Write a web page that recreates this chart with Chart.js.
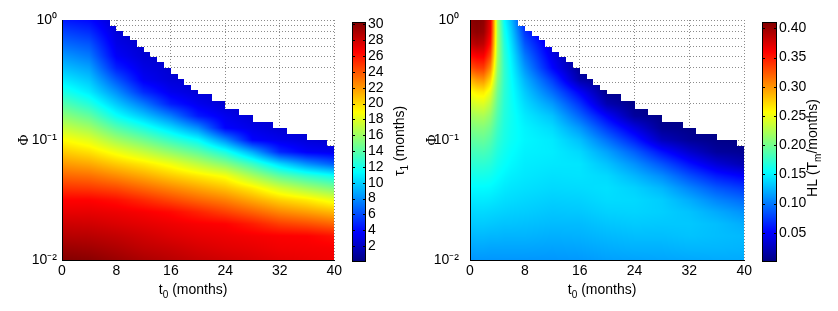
<!DOCTYPE html>
<html>
<head>
<meta charset="utf-8">
<script src="https://cdn.jsdelivr.net/npm/chart.js@4.4.1/dist/chart.umd.min.js"></script>
<style>
  body { margin: 0; background: #fff; width: 838px; height: 311px; position: relative; overflow: hidden; }
  .box { position: absolute; top: 0; height: 311px; }
</style>
</head>
<body>
<div class="box" style="left:0;width:345px"><canvas id="tauChart"></canvas></div>
<div class="box" style="left:345px;width:75px"><canvas id="tauBar"></canvas></div>
<div class="box" style="left:380px;width:375px"><canvas id="hlChart"></canvas></div>
<div class="box" style="left:755px;width:83px"><canvas id="hlBar"></canvas></div>
<script>
// rows of the grid, log10(Phi) from 10^0 down to 10^-2
const logPhiRows = [0, -0.1, -0.2, -0.3, -0.4, -0.5, -0.6, -0.7, -0.8, -0.9, -1.0,
  -1.1, -1.2, -1.3, -1.4, -1.5, -1.6, -1.7, -1.8, -1.9, -2.0];

// upper Phi limit of the solved region, one value per month of t0 (white above)
const phiEdge = [1, 1, 1, 1, 1, 1, 1, 0.89, 0.81, 0.74, 0.68, 0.60, 0.54, 0.49, 0.45, 0.40,
  0.355, 0.32, 0.29, 0.26, 0.24, 0.24, 0.21, 0.21, 0.18, 0.18, 0.162, 0.162, 0.141, 0.141,
  0.141, 0.126, 0.126, 0.112, 0.112, 0.112, 0.10, 0.10, 0.10, 0.089];

// left panel: tau1 (months), one column per t0, rows follow logPhiRows
const tauT0 = [0, 4, 8, 12, 16, 20, 24, 28, 32, 36, 40];
const tau1 = [
  [4.5, 5.8, 7.0, 8.3, 9.5, 10.8, 12.2, 13.9, 15.6, 17.3, 19.0, 20.5, 22.0, 23.5, 25.0, 26.5, 27.2, 28.0, 28.7, 29.5, 30.2],
  [4.0, 5.1, 6.3, 7.4, 8.6, 9.7, 10.8, 12.4, 14.3, 16.2, 18.1, 19.8, 21.5, 23.2, 24.8, 26.5, 27.2, 27.9, 28.6, 29.3, 30.0],
  [2.3, 2.7, 3.1, 3.6, 4.7, 6.4, 8.1, 9.8, 11.6, 13.9, 16.2, 18.5, 20.5, 22.4, 24.3, 26.1, 27.0, 27.6, 28.3, 28.9, 29.5],
  [1.8, 2.0, 2.3, 2.55, 3.0, 3.5, 5.0, 7.4, 9.7, 12.2, 14.7, 17.2, 19.6, 21.5, 23.4, 25.3, 26.7, 27.3, 27.9, 28.4, 29.0],
  [1.6, 1.8, 2.0, 2.2, 2.4, 2.65, 3.3, 4.6, 7.5, 10.3, 13.0, 15.7, 18.5, 20.5, 22.5, 24.4, 26.3, 27.0, 27.5, 28.1, 28.6],
  [1.5, 1.6, 1.8, 2.0, 2.2, 2.4, 2.6, 3.3, 4.5, 8.0, 11.4, 14.2, 17.0, 19.6, 21.6, 23.5, 25.5, 26.7, 27.2, 27.7, 28.2],
  [1.4, 1.5, 1.6, 1.8, 2.0, 2.2, 2.4, 2.5, 3.3, 3.8, 8.0, 12.1, 15.4, 18.7, 20.7, 22.7, 24.6, 26.5, 27.0, 27.4, 27.9],
  [1.3, 1.4, 1.5, 1.6, 1.8, 2.0, 2.2, 2.4, 2.5, 3.1, 3.8, 8.9, 13.1, 16.4, 19.4, 21.5, 23.6, 25.7, 26.8, 27.2, 27.6],
  [1.2, 1.3, 1.4, 1.5, 1.6, 1.8, 2.0, 2.2, 2.4, 2.5, 3.2, 4.9, 10.3, 14.2, 17.6, 20.3, 22.5, 24.7, 26.6, 26.9, 27.3],
  [1.1, 1.2, 1.3, 1.4, 1.5, 1.6, 1.8, 2.0, 2.2, 2.4, 2.7, 3.6, 8.1, 12.8, 16.2, 19.5, 21.8, 24.2, 26.5, 26.8, 27.1],
  [1.0, 1.1, 1.2, 1.3, 1.4, 1.5, 1.6, 1.8, 2.0, 2.2, 2.4, 3.3, 6.5, 11.7, 15.0, 18.3, 21.0, 23.5, 26.0, 26.7, 26.9]
];

// right panel: HL (Tm/months)
const hlT0 = [0, 1, 2, 3, 4, 5, 6, 8, 12, 16, 20, 24, 28, 32, 36, 40];
const hl = [
  [0.405, 0.398, 0.382, 0.355, 0.325, 0.285, 0.255, 0.236, 0.218, 0.204, 0.192, 0.181, 0.171, 0.161, 0.153, 0.145, 0.138, 0.132, 0.125, 0.118, 0.111],
  [0.41, 0.405, 0.39, 0.362, 0.335, 0.298, 0.264, 0.242, 0.222, 0.207, 0.194, 0.182, 0.172, 0.162, 0.153, 0.146, 0.139, 0.133, 0.126, 0.119, 0.112],
  [0.405, 0.40, 0.385, 0.362, 0.335, 0.30, 0.265, 0.243, 0.223, 0.207, 0.195, 0.183, 0.172, 0.162, 0.153, 0.146, 0.139, 0.133, 0.126, 0.119, 0.112],
  [0.37, 0.365, 0.352, 0.33, 0.303, 0.273, 0.247, 0.228, 0.212, 0.199, 0.188, 0.178, 0.169, 0.16, 0.152, 0.145, 0.138, 0.132, 0.125, 0.118, 0.112],
  [0.22, 0.222, 0.222, 0.22, 0.215, 0.208, 0.2, 0.193, 0.186, 0.179, 0.173, 0.167, 0.161, 0.155, 0.149, 0.143, 0.137, 0.131, 0.125, 0.118, 0.112],
  [0.155, 0.162, 0.168, 0.172, 0.174, 0.174, 0.172, 0.17, 0.168, 0.166, 0.164, 0.16, 0.156, 0.151, 0.146, 0.141, 0.136, 0.13, 0.124, 0.118, 0.112],
  [0.128, 0.136, 0.143, 0.149, 0.153, 0.156, 0.158, 0.159, 0.16, 0.159, 0.158, 0.155, 0.152, 0.148, 0.144, 0.14, 0.135, 0.13, 0.124, 0.118, 0.112],
  [0.06, 0.072, 0.086, 0.1, 0.112, 0.124, 0.133, 0.14, 0.146, 0.15, 0.151, 0.149, 0.147, 0.145, 0.142, 0.138, 0.134, 0.129, 0.124, 0.118, 0.112],
  [0.02, 0.025, 0.035, 0.043, 0.053, 0.076, 0.095, 0.114, 0.13, 0.14, 0.146, 0.147, 0.145, 0.142, 0.139, 0.135, 0.131, 0.127, 0.122, 0.117, 0.112],
  [0.005, 0.005, 0.005, 0.005, 0.008, 0.018, 0.05, 0.072, 0.092, 0.113, 0.129, 0.139, 0.144, 0.143, 0.14, 0.136, 0.132, 0.127, 0.123, 0.118, 0.113],
  [0.003, 0.003, 0.003, 0.003, 0.003, 0.003, 0.005, 0.02, 0.05, 0.074, 0.097, 0.117, 0.13, 0.139, 0.142, 0.14, 0.136, 0.131, 0.126, 0.121, 0.116],
  [0.003, 0.003, 0.003, 0.003, 0.003, 0.003, 0.003, 0.004, 0.012, 0.04, 0.064, 0.09, 0.11, 0.125, 0.136, 0.139, 0.137, 0.133, 0.128, 0.123, 0.117],
  [0.002, 0.002, 0.002, 0.002, 0.002, 0.002, 0.002, 0.002, 0.003, 0.008, 0.025, 0.058, 0.085, 0.108, 0.125, 0.134, 0.135, 0.132, 0.128, 0.123, 0.118],
  [0.002, 0.002, 0.002, 0.002, 0.002, 0.002, 0.002, 0.002, 0.002, 0.004, 0.01, 0.032, 0.058, 0.083, 0.105, 0.121, 0.13, 0.132, 0.13, 0.125, 0.119],
  [0.002, 0.002, 0.002, 0.002, 0.002, 0.002, 0.002, 0.002, 0.002, 0.002, 0.004, 0.012, 0.035, 0.062, 0.086, 0.105, 0.12, 0.128, 0.128, 0.125, 0.12],
  [0.002, 0.002, 0.002, 0.002, 0.002, 0.002, 0.002, 0.002, 0.002, 0.002, 0.002, 0.008, 0.02, 0.05, 0.074, 0.094, 0.11, 0.121, 0.126, 0.124, 0.12]
];

const xTicks = [0, 8, 16, 24, 32, 40];
const phiTicks = [0.01, 0.02, 0.03, 0.04, 0.05, 0.06, 0.07, 0.08, 0.09,
  0.1, 0.2, 0.3, 0.4, 0.5, 0.6, 0.7, 0.8, 0.9, 1];
const phiLabels = { '0': '10\u2070', '-1': '10\u207b\u00b9', '-2': '10\u207b\u00b2' };
const tauTicks = [2, 4, 6, 8, 10, 12, 14, 16, 18, 20, 22, 24, 26, 28, 30];
const hlTicks = [0.05, 0.1, 0.15, 0.2, 0.25, 0.3, 0.35, 0.4];
const tauRange = [0, 30.3];
const hlRange = [0, 0.411];

const xTitle = [{ text: 't' }, { text: '0', sub: true }, { text: ' (months)' }];
const tauTitle = [{ text: '\u03c4' }, { text: '1', sub: true }, { text: ' (months)' }];
const hlTitle = [{ text: 'HL (T' }, { text: 'm', sub: true }, { text: '/months)' }];

Chart.defaults.font.family = '"Liberation Sans", Arial, sans-serif';
Chart.defaults.font.size = 14;
Chart.defaults.color = '#000';

function clamp(v) { return v < 0 ? 0 : v > 1 ? 1 : v; }

function jet(t) {
  t = clamp(t);
  const r = clamp(Math.min(4 * t - 1.5, -4 * t + 4.5));
  const g = clamp(Math.min(4 * t - 0.5, -4 * t + 3.5));
  const b = clamp(Math.min(4 * t + 0.5, -4 * t + 2.5));
  return [Math.round(r * 255), Math.round(g * 255), Math.round(b * 255)];
}

function sample(t0s, cols, t, lp) {
  let i = 0;
  while (i < t0s.length - 2 && t > t0s[i + 1]) i++;
  const fx = clamp((t - t0s[i]) / (t0s[i + 1] - t0s[i]));
  let j = 0;
  while (j < logPhiRows.length - 2 && lp < logPhiRows[j + 1]) j++;
  const fy = clamp((logPhiRows[j] - lp) / (logPhiRows[j] - logPhiRows[j + 1]));
  const a = cols[i][j] * (1 - fy) + cols[i][j + 1] * fy;
  const b = cols[i + 1][j] * (1 - fy) + cols[i + 1][j + 1] * fy;
  return a * (1 - fx) + b * fx;
}

// text with a lowered subscript part, centred on (cx, cy), turned by angle
function drawText(ctx, cx, cy, parts, angle) {
  ctx.save();
  ctx.translate(cx, cy);
  ctx.rotate(angle);
  ctx.fillStyle = '#000';
  ctx.textBaseline = 'middle';
  ctx.textAlign = 'left';
  let total = 0;
  parts.forEach(p => {
    ctx.font = (p.sub ? '10px' : '14px') + ' "Liberation Sans", Arial, sans-serif';
    p.w = ctx.measureText(p.text).width;
    total += p.w;
  });
  let px = -total / 2;
  parts.forEach(p => {
    ctx.font = (p.sub ? '10px' : '14px') + ' "Liberation Sans", Arial, sans-serif';
    ctx.fillText(p.text, px, p.sub ? 5 : 0);
    px += p.w;
  });
  ctx.restore();
}

function heatPlugin(t0s, cols, range) {
  return {
    id: 'heat',
    beforeDatasetsDraw(chart) {
      const { ctx, chartArea: a, scales: { x, y } } = chart;
      const w = Math.round(a.right - a.left), h = Math.round(a.bottom - a.top);
      const off = document.createElement('canvas');
      off.width = w; off.height = h;
      const octx = off.getContext('2d');
      const img = octx.createImageData(w, h);
      for (let j = 0; j < h; j++) {
        const lp = Math.log10(y.getValueForPixel(a.top + j + 0.5));
        for (let i = 0; i < w; i++) {
          const t = x.getValueForPixel(a.left + i + 0.5);
          const m = Math.max(0, Math.min(phiEdge.length - 1, Math.floor(t)));
          if (lp > Math.log10(phiEdge[m])) continue;
          const c = jet((sample(t0s, cols, t, lp) - range[0]) / (range[1] - range[0]));
          const k = (j * w + i) * 4;
          img.data[k] = c[0]; img.data[k + 1] = c[1]; img.data[k + 2] = c[2]; img.data[k + 3] = 255;
        }
      }
      octx.putImageData(img, 0, 0);
      ctx.drawImage(off, a.left, a.top);
    },
    afterDraw(chart) {
      const a = chart.chartArea;
      drawText(chart.ctx, (a.left + a.right) / 2 - 5, 290, xTitle, 0);
    }
  };
}

function mainChart(id, t0s, cols, range, yWidth, yPad, titlePad) {
  return new Chart(id, {
    type: 'scatter',
    data: { datasets: [{ data: [] }] },
    options: {
      responsive: true, maintainAspectRatio: false, animation: false,
      layout: { padding: { top: 20, right: 5, bottom: 0, left: 0 } },
      plugins: { legend: { display: false }, tooltip: { enabled: false } },
      scales: {
        x: {
          type: 'linear', min: 0, max: 40,
          afterBuildTicks: s => { s.ticks = xTicks.map(v => ({ value: v })); },
          afterFit: s => { s.height = 51; },
          grid: { color: '#8c8c8c', drawTicks: false },
          border: { display: true, color: '#000', width: 1, dash: [1, 2], z: 1 },
          ticks: { padding: 3, maxRotation: 0, autoSkip: false }
        },
        y: {
          type: 'logarithmic', min: 0.01, max: 1,
          afterBuildTicks: s => { s.ticks = phiTicks.map(v => ({ value: v })); },
          afterFit: s => { s.width = yWidth; },
          grid: { color: '#8c8c8c', drawTicks: false },
          border: { display: true, color: '#000', width: 1, dash: [1, 2], z: 1 },
          ticks: {
            padding: yPad, autoSkip: false,
            callback: v => {
              const e = Math.log10(v);
              return Math.abs(e - Math.round(e)) < 1e-9 ? phiLabels[String(Math.round(e))] : '';
            }
          },
          title: { display: true, text: '\u03a6', font: { family: '"Liberation Serif", serif', size: 15 }, padding: { top: titlePad, bottom: 0 } }
        }
      }
    },
    plugins: [heatPlugin(t0s, cols, range)]
  });
}

function barPlugin(range, title, tx, ty) {
  return {
    id: 'cbar',
    beforeDatasetsDraw(chart) {
      const { ctx, chartArea: a, scales: { y } } = chart;
      for (let py = Math.floor(a.top); py < a.bottom; py++) {
        const c = jet((y.getValueForPixel(py + 0.5) - range[0]) / (range[1] - range[0]));
        ctx.fillStyle = 'rgb(' + c.join(',') + ')';
        ctx.fillRect(a.left, py, a.right - a.left, 1);
      }
      ctx.save();
      ctx.strokeStyle = '#000';
      ctx.lineWidth = 1;
      ctx.strokeRect(a.left + 0.5, a.top + 0.5, a.right - a.left - 1, a.bottom - a.top - 1);
      ctx.beginPath();
      y.ticks.forEach(t => {
        const p = Math.round(y.getPixelForValue(t.value)) + 0.5;
        ctx.moveTo(a.left, p); ctx.lineTo(a.left + 3, p);
        ctx.moveTo(a.right - 3, p); ctx.lineTo(a.right, p);
      });
      ctx.stroke();
      ctx.restore();
    },
    afterDraw(chart) {
      drawText(chart.ctx, tx, ty, title, -Math.PI / 2);
    }
  };
}

function barChart(id, range, ticks, yWidth, title, tx, ty) {
  return new Chart(id, {
    type: 'scatter',
    data: { datasets: [{ data: [] }] },
    options: {
      responsive: true, maintainAspectRatio: false, animation: false,
      layout: { padding: { top: 22, right: 0, bottom: 49, left: 7 } },
      plugins: { legend: { display: false }, tooltip: { enabled: false } },
      scales: {
        x: { display: false, min: 0, max: 1 },
        y: {
          position: 'right', min: range[0], max: range[1],
          afterBuildTicks: s => { s.ticks = ticks.map(v => ({ value: v })); },
          afterFit: s => { s.width = yWidth; },
          grid: { display: false, drawTicks: false, tickLength: 0 },
          border: { display: false },
          ticks: { padding: 2, autoSkip: false }
        }
      }
    },
    plugins: [barPlugin(range, title, tx, ty)]
  });
}

mainChart('tauChart', tauT0, tau1, tauRange, 62, 5, 15);
mainChart('hlChart', hlT0, hl, hlRange, 90, 11, 43);
barChart('tauBar', tauRange, tauTicks, 54, tauTitle, 55, 141);
barChart('hlBar', hlRange, hlTicks, 61, hlTitle, 58, 148);
</script>
</body>
</html>
